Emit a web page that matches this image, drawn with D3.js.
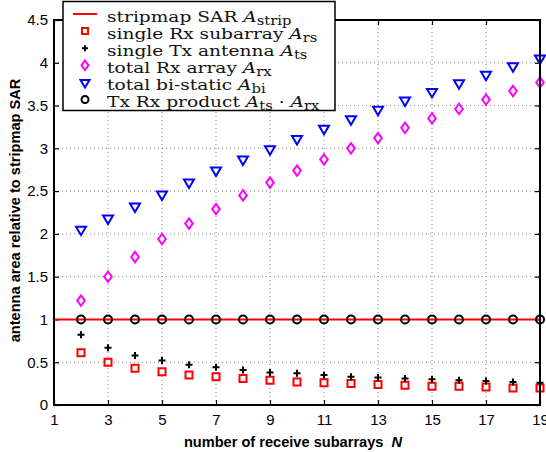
<!DOCTYPE html>
<html>
<head>
<meta charset="utf-8">
<script src="https://cdn.jsdelivr.net/npm/d3@7"></script>
<style>
  body { margin: 0; background: #fff; }
  .tick text { font-family: "Liberation Sans", Arial, sans-serif; font-size: 15px; }
</style>
</head>
<body>
<div id="chart"></div>
<script>
// Data
var subarrays = [2, 3, 4, 5, 6, 7, 8, 9, 10, 11, 12, 13, 14, 15, 16, 17, 18, 19];
var stripRange = [1, 19];
var stripValue = 1;
var singleRx = [0.61, 0.50, 0.43, 0.39, 0.35, 0.33, 0.31, 0.29, 0.27, 0.26, 0.25, 0.24, 0.23, 0.22, 0.22, 0.21, 0.20, 0.20];
var singleTx = [0.82, 0.67, 0.58, 0.52, 0.47, 0.44, 0.41, 0.38, 0.37, 0.35, 0.33, 0.32, 0.31, 0.30, 0.29, 0.28, 0.27, 0.26];
var totalRx = [1.22, 1.50, 1.73, 1.94, 2.12, 2.29, 2.45, 2.60, 2.74, 2.87, 3.00, 3.12, 3.24, 3.35, 3.46, 3.57, 3.67, 3.77];
var totalBi = [2.04, 2.17, 2.31, 2.45, 2.59, 2.73, 2.86, 2.98, 3.10, 3.22, 3.33, 3.44, 3.55, 3.65, 3.75, 3.85, 3.95, 4.04];
var product = [1, 1, 1, 1, 1, 1, 1, 1, 1, 1, 1, 1, 1, 1, 1, 1, 1, 1];
var xTicks = [1, 3, 5, 7, 9, 11, 13, 15, 17, 19];
var yTicks = [0, 0.5, 1, 1.5, 2, 2.5, 3, 3.5, 4, 4.5];

var svgWidth = 546;
var svgHeight = 452;
var margin = { top: 20, right: 6, bottom: 47, left: 54 };
var width = svgWidth - margin.left - margin.right;
var height = svgHeight - margin.top - margin.bottom;

var svg = d3.select("#chart")
    .append("svg")
    .attr("width", svgWidth)
    .attr("height", svgHeight);

var chartGroup = svg.append("g")
    .attr("transform", `translate(${margin.left}, ${margin.top})`);

var x = d3.scaleLinear().domain([1, 19]).range([0, width]);
var y = d3.scaleLinear().domain([0, 4.5]).range([height, 0]);

// dotted grid
chartGroup.append("g")
    .selectAll("line")
    .data(xTicks.slice(1, -1))
    .enter()
    .append("line")
    .attr("x1", d => x(d)).attr("x2", d => x(d))
    .attr("y1", 0).attr("y2", height)
    .attr("stroke", "#8a8a8a")
    .attr("stroke-width", 1)
    .attr("stroke-dasharray", "1,3");

chartGroup.append("g")
    .selectAll("line")
    .data(yTicks.slice(1, -1))
    .enter()
    .append("line")
    .attr("x1", 0).attr("x2", width)
    .attr("y1", d => y(d)).attr("y2", d => y(d))
    .attr("stroke", "#8a8a8a")
    .attr("stroke-width", 1)
    .attr("stroke-dasharray", "1,3");

// axes with inward ticks
var bottomAxis = d3.axisBottom(x).tickValues(xTicks).tickSize(-5).tickPadding(9).tickFormat(d3.format("d"));
var leftAxis = d3.axisLeft(y).tickValues(yTicks).tickSize(-5).tickPadding(6).tickFormat(d => d);

var gx = chartGroup.append("g")
    .attr("transform", `translate(0, ${height})`)
    .call(bottomAxis);
var gy = chartGroup.append("g").call(leftAxis);
var gt = chartGroup.append("g").call(d3.axisTop(x).tickValues(xTicks).tickSize(-5).tickFormat(""));
var gr = chartGroup.append("g")
    .attr("transform", `translate(${width}, 0)`)
    .call(d3.axisRight(y).tickValues(yTicks).tickSize(-5).tickFormat(""));

[gx, gy, gt, gr].forEach(function(g) {
    g.select(".domain").remove();
    g.selectAll(".tick line").attr("stroke", "#000").attr("stroke-width", 1.2);
    g.selectAll(".tick text").attr("fill", "#000");
});

// stripmap line
chartGroup.append("line")
    .attr("x1", x(stripRange[0])).attr("x2", x(stripRange[1]))
    .attr("y1", y(stripValue)).attr("y2", y(stripValue))
    .attr("stroke", "#ff0000")
    .attr("stroke-width", 2);

// marker shapes
function squarePath(s) { return `M${-s},${-s}H${s}V${s}H${-s}Z`; }
function plusPath(s) { return `M${-s},0H${s}M0,${-s}V${s}`; }
function diamondPath(w, h) { return `M0,${-h}L${w},0L0,${h}L${-w},0Z`; }
function triPath(w, h) { return `M${-w},${-h * 0.45}L${w},${-h * 0.45}L0,${h * 0.55}Z`; }

function drawMarkers(values, path, color, fill) {
    chartGroup.append("g")
        .selectAll("path")
        .data(values)
        .enter()
        .append("path")
        .attr("transform", (d, i) => `translate(${x(subarrays[i])}, ${y(d)})`)
        .attr("d", path)
        .attr("fill", fill || "none")
        .attr("stroke", color)
        .attr("stroke-width", 2);
}

drawMarkers(singleRx, squarePath(3.5), "#ff0000", "#fff");
drawMarkers(singleTx, plusPath(3.5), "#000");
drawMarkers(totalRx, diamondPath(3.8, 5.2), "#ff00ff", "#fff");
drawMarkers(totalBi, triPath(5, 8.5), "#0000ff", "#fff");

chartGroup.append("g")
    .selectAll("circle")
    .data(product)
    .enter()
    .append("circle")
    .attr("cx", (d, i) => x(subarrays[i]))
    .attr("cy", d => y(d))
    .attr("r", 4)
    .attr("fill", "none")
    .attr("stroke", "#000")
    .attr("stroke-width", 2);

// plot box
chartGroup.append("rect")
    .attr("width", width)
    .attr("height", height)
    .attr("fill", "none")
    .attr("stroke", "#000")
    .attr("stroke-width", 2);

// legend
var legend = svg.append("g").attr("transform", "translate(63, 1.5)");
legend.append("rect")
    .attr("width", 272)
    .attr("height", 109)
    .attr("fill", "#fff")
    .attr("stroke", "#000")
    .attr("stroke-width", 1.5);

var legendItems = [
    { label: "stripmap SAR ", sym: "A", sub: "strip" },
    { label: "single Rx subarray ", sym: "A", sub: "rs" },
    { label: "single Tx antenna ", sym: "A", sub: "ts" },
    { label: "total Rx array ", sym: "A", sub: "rx" },
    { label: "total bi-static ", sym: "A", sub: "bi" },
    { label: "Tx Rx product ", sym: "A", sub: "ts", sym2: "A", sub2: "rx" }
];

var rows = legend.selectAll(".row")
    .data(legendItems)
    .enter()
    .append("g")
    .attr("class", "row")
    .attr("transform", (d, i) => `translate(0, ${12.5 + i * 17.1})`);

rows.filter((d, i) => i === 0).append("line")
    .attr("x1", 10).attr("x2", 34).attr("y1", 0).attr("y2", 0)
    .attr("stroke", "#ff0000").attr("stroke-width", 2);
rows.filter((d, i) => i === 1).append("path")
    .attr("transform", "translate(22, 0)").attr("d", squarePath(3))
    .attr("fill", "#fff").attr("stroke", "#ff0000").attr("stroke-width", 2);
rows.filter((d, i) => i === 2).append("path")
    .attr("transform", "translate(22, 0)").attr("d", plusPath(3))
    .attr("stroke", "#000").attr("stroke-width", 2);
rows.filter((d, i) => i === 3).append("path")
    .attr("transform", "translate(22, 0)").attr("d", diamondPath(3.5, 4.8))
    .attr("fill", "#fff").attr("stroke", "#ff00ff").attr("stroke-width", 2);
rows.filter((d, i) => i === 4).append("path")
    .attr("transform", "translate(22, 1)").attr("d", triPath(4.5, 7.5))
    .attr("fill", "#fff").attr("stroke", "#0000ff").attr("stroke-width", 2);
rows.filter((d, i) => i === 5).append("circle")
    .attr("cx", 22).attr("cy", 0).attr("r", 3.5)
    .attr("fill", "none").attr("stroke", "#000").attr("stroke-width", 2);

// serif legend text, stretched sideways to the wider look of the original typeface
var texts = rows.append("text")
    .attr("transform", "translate(44, 7.5) scale(1.2, 1)")
    .attr("font-family", "'DejaVu Serif', serif")
    .attr("font-size", "15.5px")
    .attr("fill", "#111");

texts.each(function(d) {
    var t = d3.select(this);
    t.append("tspan").text(d.label);
    t.append("tspan").attr("font-style", "italic").text(d.sym);
    t.append("tspan").attr("dy", 3).attr("font-size", "12.3px").text(d.sub);
    if (d.sym2) {
        t.append("tspan").attr("dy", -3).text(" \u00b7 ");
        t.append("tspan").attr("font-style", "italic").text(d.sym2);
        t.append("tspan").attr("dy", 3).attr("font-size", "12.3px").text(d.sub2);
    }
});

// axis labels
chartGroup.append("text")
    .attr("transform", "rotate(-90)")
    .attr("x", -height / 2 + 2)
    .attr("y", -margin.left + 20)
    .attr("text-anchor", "middle")
    .attr("font-family", "'Liberation Sans', Arial, sans-serif")
    .attr("font-weight", "bold")
    .attr("font-size", "14.6px")
    .text("antenna area relative to stripmap SAR");

var xLabel = chartGroup.append("text")
    .attr("x", width / 2 - 4)
    .attr("y", height + 42)
    .attr("text-anchor", "middle")
    .attr("font-family", "'Liberation Sans', Arial, sans-serif")
    .attr("font-weight", "bold")
    .attr("font-size", "14.6px");
xLabel.append("tspan").text("number of receive subarrays\u00a0\u00a0");
xLabel.append("tspan").attr("font-style", "italic").text("N");
</script>
</body>
</html>
